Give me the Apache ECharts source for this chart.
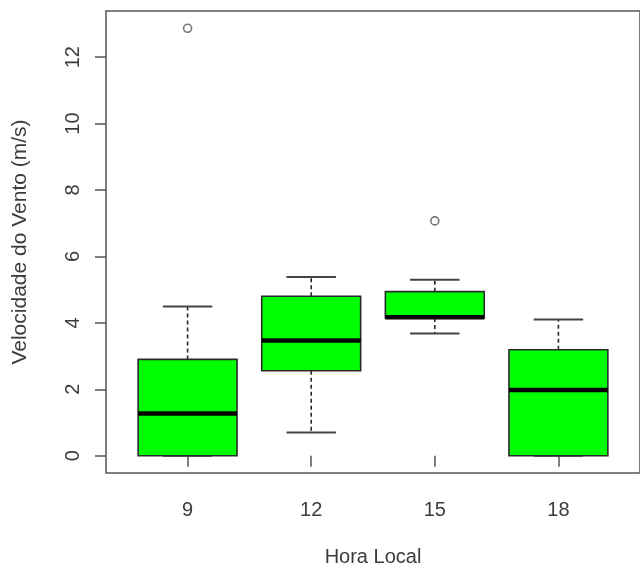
<!DOCTYPE html>
<html>
<head>
<meta charset="utf-8">
<script src="https://cdn.jsdelivr.net/npm/echarts@6/dist/echarts.min.js"></script>
<style>html,body{margin:0;padding:0;background:#fff}#c{width:640px;height:572px}</style>
</head>
<body>
<div id="c"></div>
<script>
// Categories (x tick labels) and box statistics
var hours = ['9', '12', '15', '18'];
var whiskerLow = [0, 0.70, 3.68, 0];
var q1 = [0, 2.56, 4.15, 0];
var median = [1.27, 3.47, 4.17, 1.98];
var q3 = [2.90, 4.80, 4.94, 3.19];
var whiskerHigh = [4.49, 5.38, 5.30, 4.10];
// Outliers: index of the group and value
var outlierGroup = [0, 2];
var outlierValue = [12.87, 7.07];
var yTicks = [0, 2, 4, 6, 8, 10, 12];

var boxData = hours.map(function (h, i) {
  return [i + 1, whiskerLow[i], q1[i], median[i], q3[i], whiskerHigh[i]];
});
var outData = outlierGroup.map(function (g, i) { return [g + 1, outlierValue[i]]; });

var txt = '#3c3c3c', ln = '#2a2a2a', font = 'Liberation Sans, Arial, sans-serif';
var chart = echarts.init(document.getElementById('c'), null, { renderer: 'canvas' });
chart.setOption({
  animation: false,
  backgroundColor: '#fff',
  grid: { left: 106, top: 11, width: 538, height: 462, show: true, borderColor: '#555', borderWidth: 1.5, backgroundColor: 'transparent' },
  xAxis: {
    type: 'value', min: 0.34, max: 4.66,
    name: 'Hora Local', nameLocation: 'middle', nameGap: 74,
    nameTextStyle: { color: txt, fontSize: 20, fontFamily: font },
    axisLine: { show: false },
    splitLine: { show: false },
    axisTick: { show: true, length: 11, lineStyle: { color: '#555', width: 1.5 }, customValues: [1, 2, 3, 4] },
    axisLabel: { color: txt, fontSize: 20, fontFamily: font, margin: 27, customValues: [1, 2, 3, 4],
      formatter: function (v) { return hours[Math.round(v) - 1]; } }
  },
  yAxis: {
    type: 'value', min: -0.52, max: 13.39,
    name: 'Velocidade do Vento (m/s)', nameLocation: 'middle', nameGap: 75, nameRotate: 90,
    nameTextStyle: { color: txt, fontSize: 21, fontFamily: font },
    axisLine: { show: false },
    splitLine: { show: false },
    axisTick: { show: true, length: 11, lineStyle: { color: '#555', width: 1.5 }, customValues: yTicks },
    axisLabel: { color: txt, fontSize: 20, fontFamily: font, rotate: 90, margin: 23, customValues: yTicks }
  },
  series: [{
    type: 'custom',
    data: boxData,
    encode: { x: 0, y: [1, 2, 3, 4, 5] },
    renderItem: function (params, api) {
      var x = api.value(0);
      var half = api.size([0.4, 0])[0];
      var quarter = api.size([0.2, 0])[0];
      var pLo = api.coord([x, api.value(1)]);
      var pQ1 = api.coord([x, api.value(2)]);
      var pMed = api.coord([x, api.value(3)]);
      var pQ3 = api.coord([x, api.value(4)]);
      var pHi = api.coord([x, api.value(5)]);
      var cx = pMed[0];
      var children = [];
      children.push({ type: 'line', shape: { x1: cx, y1: pQ3[1], x2: cx, y2: pHi[1] },
        style: { stroke: ln, lineWidth: 1.6, lineDash: [4, 3] } });
      children.push({ type: 'line', shape: { x1: cx, y1: pQ1[1], x2: cx, y2: pLo[1] },
        style: { stroke: ln, lineWidth: 1.6, lineDash: [4, 3] } });
      children.push({ type: 'line', shape: { x1: cx - quarter, y1: pHi[1], x2: cx + quarter, y2: pHi[1] },
        style: { stroke: '#444', lineWidth: 2 } });
      children.push({ type: 'line', shape: { x1: cx - quarter, y1: pLo[1], x2: cx + quarter, y2: pLo[1] },
        style: { stroke: '#444', lineWidth: 2 } });
      children.push({ type: 'rect', shape: { x: cx - half, y: pQ3[1], width: 2 * half, height: pQ1[1] - pQ3[1] },
        style: { fill: '#00ff00', stroke: ln, lineWidth: 1.6 } });
      children.push({ type: 'line', shape: { x1: cx - half, y1: pMed[1], x2: cx + half, y2: pMed[1] },
        style: { stroke: '#000', lineWidth: 4.5 } });
      return { type: 'group', children: children };
    }
  }, {
    type: 'scatter',
    data: outData,
    symbol: 'circle',
    symbolSize: 8,
    itemStyle: { color: '#fff', borderColor: '#555', borderWidth: 1.6 }
  }]
});
</script>
</body>
</html>
